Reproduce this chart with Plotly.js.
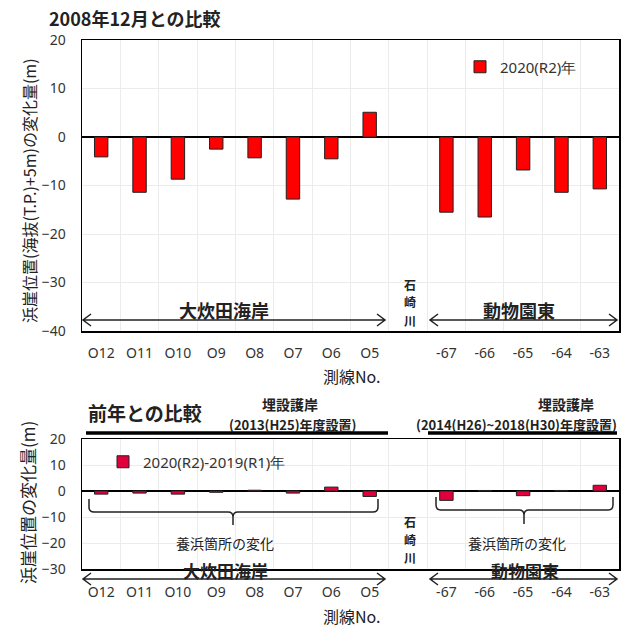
<!DOCTYPE html>
<html>
<head>
<meta charset="utf-8">
<script src="https://cdn.plot.ly/plotly-3.0.1.min.js"></script>
<style>html,body{margin:0;padding:0;background:#fff;}#chart{width:621px;height:627px;}</style>
</head>
<body>
<div id="chart"></div>
<script>
// ---- data ----
const categories = ['O12','O11','O10','O9','O8','O7','O6','O5',' ','-67','-66','-65','-64','-63'];
const values2008 = [-4.1,-11.4,-8.7,-2.5,-4.3,-12.8,-4.5,5.1,null,-15.5,-16.5,-6.8,-11.4,-10.7];
const valuesPrev = [-1.2,-0.8,-1.2,-0.5,0.3,-0.8,1.5,-2.1,null,-3.6,0.2,-1.8,0.2,2.2];
const seriesTop = '2020(R2)年';
const seriesBottom = '2020(R2)-2019(R1)年';
const riverChars = ['石','崎','川'];

// ---- layout helpers (pixel -> paper) ----
const W = 621, H = 627;
const px = x => x / W;
const py = y => 1 - y / H;
const JP = '"Noto Sans CJK JP", "Noto Sans", sans-serif';
const LAT = '"Noto Sans", "DejaVu Sans", sans-serif';

const traces = [
  {type:'bar', x:categories, y:values2008, name:seriesTop, xaxis:'x', yaxis:'y', width:0.35,
   marker:{color:'#FF0000', line:{color:'#222', width:1}}, legend:'legend'},
  {type:'bar', x:categories, y:valuesPrev, name:seriesBottom, xaxis:'x2', yaxis:'y2', width:0.35,
   marker:{color:'#E0003C', line:{color:'#222', width:1}}, legend:'legend2'}
];

const xcommon = {type:'category', tickson:'boundaries', showgrid:true, gridcolor:'#ececec', gridwidth:1,
  showline:true, mirror:true, linecolor:'#000', linewidth:1.5, ticks:'', ticklabelstandoff:10,
  tickfont:{family:LAT, size:14, color:'#333'}, domain:[px(82), px(619)], fixedrange:true};
const ycommon = {showgrid:true, gridcolor:'#ececec', gridwidth:1, zeroline:true, zerolinecolor:'#000',
  zerolinewidth:1.5, showline:true, mirror:true, linecolor:'#000', linewidth:1.5, dtick:10,
  ticks:'outside', ticklen:12, tickcolor:'rgba(0,0,0,0)', tickfont:{family:LAT, size:14, color:'#333'}};

function arrowPath(x1, x2, y) {
  const a = 8, b = 6;
  return `M${px(x1)},${py(y)} L${px(x2)},${py(y)} ` +
    `M${px(x1+a)},${py(y-b)} L${px(x1)},${py(y)} L${px(x1+a)},${py(y+b)} ` +
    `M${px(x2-a)},${py(y-b)} L${px(x2)},${py(y)} L${px(x2-a)},${py(y+b)}`;
}
function bracketPath(x1, x2, xc, yTop, yBar, yTip) {
  const r = 5;
  return `M${px(x1)},${py(yTop)} L${px(x1)},${py(yBar-r)} Q${px(x1)},${py(yBar)} ${px(x1+r)},${py(yBar)} ` +
    `L${px(xc-r)},${py(yBar)} Q${px(xc)},${py(yBar)} ${px(xc)},${py(yBar+r)} L${px(xc)},${py(yTip)} ` +
    `M${px(xc)},${py(yBar+r)} Q${px(xc)},${py(yBar)} ${px(xc+r)},${py(yBar)} ` +
    `L${px(x2-r)},${py(yBar)} Q${px(x2)},${py(yBar)} ${px(x2)},${py(yBar-r)} L${px(x2)},${py(yTop)}`;
}
const lineStyle = {color:'#222', width:1.5};
const shapes = [
  {type:'path', xref:'paper', yref:'paper', path:arrowPath(83,385,320), line:lineStyle},
  {type:'path', xref:'paper', yref:'paper', path:arrowPath(430,617,320), line:lineStyle},
  {type:'path', xref:'paper', yref:'paper', path:arrowPath(83,385,579), line:lineStyle},
  {type:'path', xref:'paper', yref:'paper', path:arrowPath(430,617,579), line:lineStyle},
  {type:'line', xref:'paper', yref:'paper', x0:px(86), x1:px(388), y0:py(433), y1:py(433), line:{color:'#000', width:3.5}},
  {type:'line', xref:'paper', yref:'paper', x0:px(428), x1:px(617), y0:py(433), y1:py(433), line:{color:'#000', width:3.5}},
  {type:'path', xref:'paper', yref:'paper', path:bracketPath(89,378,233,499,512,525), line:lineStyle},
  {type:'path', xref:'paper', yref:'paper', path:bracketPath(436,613,524,497,510,524), line:lineStyle}
];

function ann(text, x, y, size, bold, extra) {
  return Object.assign({text: bold ? '<b>'+text+'</b>' : text, xref:'paper', yref:'paper', x:px(x), y:py(y),
    xanchor:'center', yanchor:'middle', showarrow:false, borderpad:0, font:{family:JP, size:size, color:'#222'}}, extra||{});
}
const annotations = [
  ann('2008年12月との比較', 48, 18, 18, true, {xanchor:'left'}),
  ann('前年との比較', 87, 412, 19, true, {xanchor:'left'}),
  ann('浜崖位置(海抜(T.P.)+5m)の変化量(m)', 29, 191, 16, false, {textangle:-90}),
  ann('浜崖位置の変化量(m)', 27, 503, 17, false, {textangle:-90}),
  ann('測線No.', 352, 376, 16, false),
  ann('測線No.', 352, 616, 16, false),
  ann('大炊田海岸', 224, 310, 18, true),
  ann('動物園東', 519, 310, 18, true),
  ann('大炊田海岸', 225, 570, 17, true),
  ann('動物園東', 525, 570, 17, true),
  ann('養浜箇所の変化', 225, 543, 14, false),
  ann('養浜箇所の変化', 517, 543, 14, false),
  ann('埋設護岸', 290, 404, 14, true),
  ann('(2013(H25)年度設置)', 293, 424, 13, true),
  ann('埋設護岸', 566, 404, 14, true),
  ann('(2014(H26)~2018(H30)年度設置)', 516, 424, 13, true)
];
riverChars.forEach((c, i) => {
  annotations.push(ann(c, 410, 284 + i * 18, 12, true));
  annotations.push(ann(c, 410, 521 + i * 18, 12, true));
});

const layout = {
  width:W, height:H, margin:{l:0, r:0, t:0, b:0}, paper_bgcolor:'#fff', plot_bgcolor:'#fff',
  showlegend:true, barmode:'group',
  font:{family:JP, color:'#222'},
  xaxis: Object.assign({}, xcommon, {anchor:'y', ticklabelstandoff:9}),
  yaxis: Object.assign({}, ycommon, {range:[-40,20], domain:[py(331), py(40)], anchor:'x'}),
  xaxis2: Object.assign({}, xcommon, {anchor:'y2', ticklabelstandoff:10}),
  yaxis2: Object.assign({}, ycommon, {range:[-30,20], domain:[py(569), py(439)], anchor:'x2'}),
  legend:{x:px(460), y:py(67), xanchor:'left', yanchor:'middle', bgcolor:'rgba(0,0,0,0)',
    font:{family:LAT, size:15, color:'#333'}},
  legend2:{x:px(103), y:py(462), xanchor:'left', yanchor:'middle', bgcolor:'rgba(0,0,0,0)',
    font:{family:LAT, size:15, color:'#333'}},
  shapes: shapes,
  annotations: annotations
};

Plotly.newPlot('chart', traces, layout, {displayModeBar:false, staticPlot:true});
</script>
</body>
</html>
